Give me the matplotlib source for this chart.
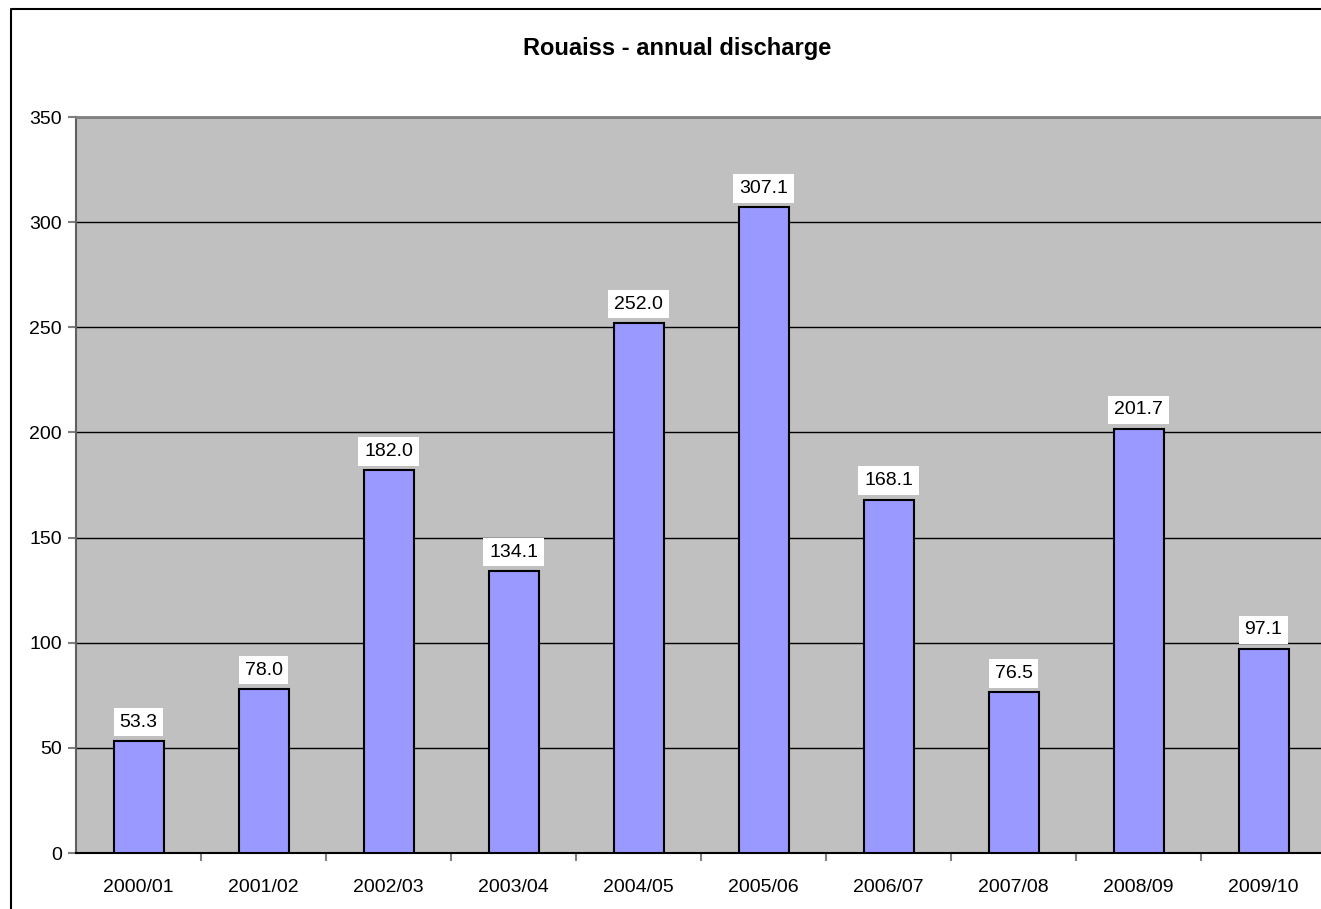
import matplotlib.pyplot as plt
import numpy as np
from matplotlib.lines import Line2D

plt.rcParams['font.family'] = ['Liberation Sans', 'DejaVu Sans']

# Annual discharge per hydrological year
years = ['2000/01', '2001/02', '2002/03', '2003/04', '2004/05',
         '2005/06', '2006/07', '2007/08', '2008/09', '2009/10']
discharge = [53.3, 78.0, 182.0, 134.1, 252.0, 307.1, 168.1, 76.5, 201.7, 97.1]

fig = plt.figure(figsize=(13.21, 9.09), dpi=100)

# outer chart border (left and top edges only)
bx, by = 10.5 / 1321, 1 - 8.5 / 909
fig.lines.append(Line2D([bx, bx, 1.01], [-0.01, by, by], transform=fig.transFigure,
                        color='black', linewidth=1.5))

ax = fig.add_axes([76 / 1321, 56 / 909, 1250 / 1321, 736 / 909])
ax.set_facecolor('#c0c0c0')

x = np.arange(len(years))
bars = ax.bar(x, discharge, width=0.4, color='#9999ff', edgecolor='black',
              linewidth=1.5, zorder=3)

for xi, v in zip(x, discharge):
    ax.annotate(f'{v:.1f}', (xi, v), xytext=(0, 7.5), textcoords='offset points',
                ha='center', va='bottom', fontsize=14, zorder=4,
                bbox=dict(boxstyle='square,pad=0.3', facecolor='white', edgecolor='none'))

ax.set_xlim(-0.5, len(years) - 0.5)
ax.set_ylim(0, 350)
ax.set_yticks(np.arange(0, 351, 50))
ax.yaxis.grid(True, color='black', linewidth=1)
ax.set_axisbelow(True)

# category labels centred, tick marks on the boundaries
ax.set_xticks(x)
ax.set_xticklabels(years, fontsize=14)
ax.tick_params(axis='x', length=0, pad=18.5)
ax.set_xticks(np.arange(0.5, len(years) - 0.5, 1), minor=True)
ax.tick_params(axis='x', which='minor', length=6, color='#808080', width=1.5)
ax.tick_params(axis='y', length=6, color='#808080', width=1.5, labelsize=14, pad=4)

for side in ['top', 'right']:
    ax.spines[side].set_color('#808080')
    ax.spines[side].set_linewidth(2)
ax.spines['left'].set_color('#606060')
ax.spines['bottom'].set_color('black')
ax.spines['left'].set_linewidth(1.5)
ax.spines['bottom'].set_linewidth(1.5)

fig.text(677 / 1321, 1 - 48 / 909, 'Rouaiss - annual discharge', ha='center', va='center',
         fontsize=17, fontweight='bold')

plt.savefig('out.png', dpi=100)
